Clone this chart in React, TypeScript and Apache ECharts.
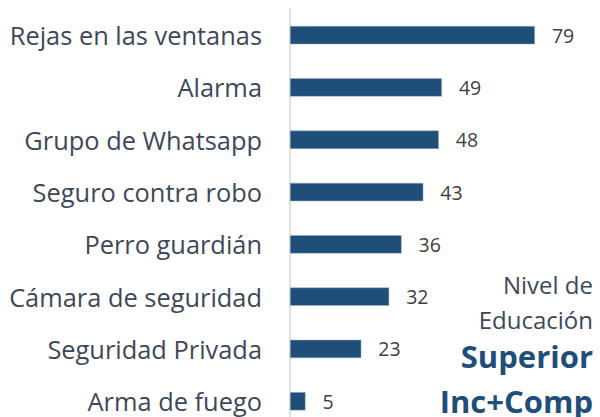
import React, { useEffect, useRef } from "react";
import * as echarts from "echarts";

const categories = [
  "Rejas en las ventanas",
  "Alarma",
  "Grupo de Whatsapp",
  "Seguro contra robo",
  "Perro guardián",
  "Cámara de seguridad",
  "Seguridad Privada",
  "Arma de fuego",
];
const values = [79, 49, 48, 43, 36, 32, 23, 5];
const noteLines = ["Nivel de", "Educación"];
const titleLines = ["Superior", "Inc+Comp"];

export default function App() {
  const ref = useRef<HTMLDivElement>(null);
  useEffect(() => {
    if (!ref.current) return;
    const chart = echarts.init(ref.current, null, { renderer: "svg" });
    chart.setOption({
      animation: false,
      grid: { left: 290, top: 9, width: 311, height: 418.4, containLabel: false },
      xAxis: {
        type: "value",
        min: 0,
        max: 100,
        show: false,
      },
      yAxis: {
        type: "category",
        inverse: true,
        data: categories,
        axisLine: { show: true, lineStyle: { color: "#D9D9D9", width: 1.5 } },
        axisTick: { show: false },
        axisLabel: {
          color: "#3E4858",
          fontSize: 25.4,
          fontFamily: "Open Sans",
          margin: 28,
        },
      },
      series: [
        {
          type: "bar",
          data: values,
          barWidth: 18.3,
          itemStyle: { color: "#1F4E79", borderColor: "#9DB3CC", borderWidth: 0.5 },
          label: {
            show: true,
            position: "right",
            distance: 17,
            color: "#404040",
            fontSize: 19.5,
            fontFamily: "Open Sans",
          },
        },
      ],
      graphic: [
        ...noteLines.map((t, i) => ({
          type: "text",
          x: 593,
          y: 284 + i * 35.5,
          style: {
            text: t,
            fill: "#3E4858",
            fontSize: 24,
            fontFamily: "Open Sans",
            textAlign: "right",
            textVerticalAlign: "middle",
          },
        })),
        ...titleLines.map((t, i) => ({
          type: "text",
          x: 593,
          y: 356 + i * 45,
          style: {
            text: t,
            fill: "#1F4E79",
            fontSize: 31,
            fontWeight: "bold",
            fontFamily: "Open Sans",
            textAlign: "right",
            textVerticalAlign: "middle",
          },
        })),
      ],
    });
    return () => chart.dispose();
  }, []);
  return (
    <div style={{ width: 600, height: 417, position: "absolute", left: 0, top: 0, overflow: "hidden" }}>
      <div ref={ref} style={{ width: 600, height: 440 }} />
    </div>
  );
}
